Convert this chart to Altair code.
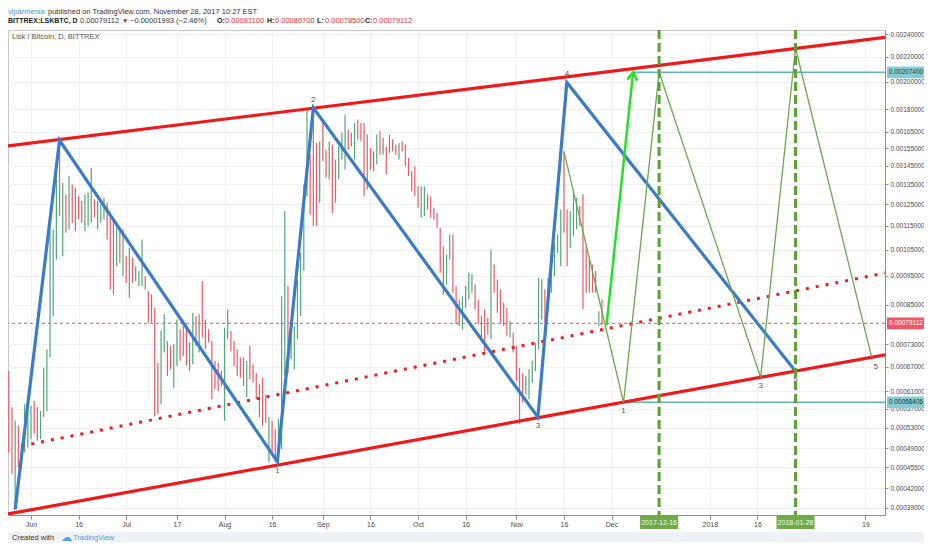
import altair as alt
import pandas as pd

W, H = 877, 485

# ---------------- data ----------------
bar_first_day = "2017-05-25"
bar_high = [
    0.000659, 0.000573, 0.000544, 0.000534, 0.000497, 0.000580, 0.000562, 0.000576, 0.000587, 0.000573,
    0.000565, 0.000667, 0.000716, 0.001134, 0.001134, 0.001463, 0.001600, 0.001357, 0.001297, 0.001392,
    0.001348, 0.001331, 0.001289, 0.001265, 0.001297, 0.001306, 0.001437, 0.001273, 0.001265, 0.001249,
    0.001281, 0.001257, 0.001187, 0.001179, 0.001142, 0.001127, 0.001134, 0.001024, 0.001057, 0.001018,
    0.000985, 0.000967, 0.001092, 0.000948, 0.000895, 0.000884, 0.000841, 0.000680, 0.000770, 0.000819,
    0.000739, 0.000725, 0.000730, 0.000803, 0.000773, 0.000783, 0.000788, 0.000735, 0.000824, 0.000814,
    0.000819, 0.000930, 0.000803, 0.000773, 0.000739, 0.000685, 0.000680, 0.000659, 0.000778, 0.000835,
    0.000768, 0.000739, 0.000716, 0.000694, 0.000694, 0.000685, 0.000725, 0.000676, 0.000654, 0.000626,
    0.000642, 0.000602, 0.000552, 0.000544, 0.000527, 0.000548, 0.000878, 0.001217, 0.000913, 0.000768,
    0.000783, 0.000936, 0.001037, 0.001348, 0.001797, 0.001512, 0.001809, 0.001581, 0.001591, 0.001719,
    0.001541, 0.001591, 0.001571, 0.001484, 0.001561, 0.001644, 0.001763, 0.001664, 0.001644, 0.001708,
    0.001730, 0.001708, 0.001708, 0.001633, 0.001551, 0.001531, 0.001633, 0.001654, 0.001612, 0.001561,
    0.001633, 0.001602, 0.001571, 0.001581, 0.001591, 0.001571, 0.001493, 0.001419, 0.001446, 0.001339,
    0.001339, 0.001339, 0.001297, 0.001289, 0.001233, 0.001209, 0.001142, 0.001064, 0.001030, 0.001113,
    0.001113, 0.000913, 0.000867, 0.000878, 0.000913, 0.000961, 0.000955, 0.000918, 0.000867, 0.000814,
    0.000835, 0.000808, 0.001050, 0.000992, 0.000936, 0.000901, 0.000856, 0.000840, 0.000798, 0.000763,
    0.000725, 0.000667, 0.000654, 0.000646, 0.000663, 0.000685, 0.000735, 0.000942, 0.000936, 0.000901,
    0.000942, 0.001050, 0.001078, 0.001113, 0.001225, 0.001531, 0.001225, 0.001217, 0.001322, 0.001281,
    0.001241, 0.001297, 0.001064, 0.001011, 0.000992, 0.000967, 0.000829, 0.000867,
]
bar_low = [
    0.000482, 0.000443, 0.000387, 0.000455, 0.000452, 0.000482, 0.000491, 0.000507, 0.000517, 0.000504,
    0.000507, 0.000552, 0.000565, 0.000694, 0.000814, 0.001011, 0.001194, 0.001024, 0.001120, 0.001134,
    0.001164, 0.001127, 0.001179, 0.001164, 0.001127, 0.001149, 0.001164, 0.001187, 0.001134, 0.001164,
    0.001179, 0.001092, 0.000901, 0.000884, 0.000985, 0.000998, 0.000948, 0.000924, 0.000873, 0.000924,
    0.000930, 0.000913, 0.000913, 0.000901, 0.000793, 0.000793, 0.000554, 0.000558, 0.000580, 0.000707,
    0.000646, 0.000663, 0.000618, 0.000672, 0.000685, 0.000698, 0.000672, 0.000659, 0.000676, 0.000725,
    0.000707, 0.000749, 0.000716, 0.000735, 0.000591, 0.000614, 0.000610, 0.000622, 0.000544, 0.000744,
    0.000711, 0.000672, 0.000646, 0.000642, 0.000622, 0.000595, 0.000638, 0.000630, 0.000591, 0.000552,
    0.000534, 0.000541, 0.000464, 0.000482, 0.000465, 0.000476, 0.000488, 0.000646, 0.000654, 0.000689,
    0.000663, 0.000744, 0.000814, 0.000967, 0.001289, 0.001202, 0.001149, 0.001149, 0.001257, 0.001474,
    0.001383, 0.001374, 0.001209, 0.001257, 0.001374, 0.001484, 0.001428, 0.001541, 0.001561, 0.001484,
    0.001602, 0.001591, 0.001289, 0.001322, 0.001428, 0.001419, 0.001456, 0.001512, 0.001512, 0.001401,
    0.001521, 0.001531, 0.001512, 0.001484, 0.001531, 0.001446, 0.001392, 0.001314, 0.001289, 0.001233,
    0.001187, 0.001194, 0.001225, 0.001187, 0.001179, 0.001142, 0.000961, 0.000884, 0.000918, 0.001011,
    0.000890, 0.000788, 0.000783, 0.000773, 0.000840, 0.000867, 0.000890, 0.000835, 0.000788, 0.000749,
    0.000711, 0.000758, 0.000744, 0.000890, 0.000824, 0.000793, 0.000783, 0.000754, 0.000749, 0.000707,
    0.000634, 0.000538, 0.000584, 0.000602, 0.000591, 0.000630, 0.000659, 0.000716, 0.000803, 0.000793,
    0.000835, 0.000890, 0.000948, 0.001037, 0.000985, 0.001120, 0.000985, 0.001057, 0.001106, 0.001134,
    0.001149, 0.000835, 0.000890, 0.000890, 0.000890, 0.000890, 0.000783, 0.000785,
]
bar_dir = ("ddudduuudd" "uuuuuududu" "dddduuuduu" "udddududud" "uuuddddduu"
           "dduuddduud" "uddddddduu" "dddddudddu" "ddudduuudu" "uuuuudddud"
           "dudduuuddu" "ddduddudud" "uddudddddd" "uudddddduu" "ddduuuuddu"
           "ddudddddud" "ddduuuuuud" "uuuuudduuu" "ddduddud")

last_open, last_high, last_low, last_close = 0.00081100, 0.00086700, 0.00078500, 0.00079112
last_change, last_change_pct = -0.00001993, -2.46

# channel (two parallel trend lines) and dotted trend line
channel_name = ["upper", "upper", "lower", "lower"]
channel_date = ["2017-05-23", "2018-02-27", "2017-05-23", "2018-02-27"]
channel_price = [0.001559, 0.002379, 0.000379, 0.000704]
dotted_date = ["2017-05-29", "2018-02-27"]
dotted_price = [0.000494, 0.000964]

# blue wave count
blue_date = ["2017-05-27", "2017-06-10", "2017-08-17T16:00", "2017-08-29",
             "2017-11-07T19:00", "2017-11-16T22:00", "2018-01-28"]
blue_price = [0.000387, 0.001598, 0.000465, 0.001809, 0.000552, 0.001995, 0.000658]

# green projected path
green_date = ["2017-11-16", "2017-12-04T19:00", "2017-12-16", "2018-01-17", "2018-01-28", "2018-02-21"]
green_price = [0.001531, 0.00058406, 0.002074, 0.000643, 0.002275, 0.000695]

# bright arrow
arrow_date = ["2017-11-29T10:00", "2017-12-07T19:00"]
arrow_price = [0.000785, 0.002074]

# horizontal target lines
target_start = ["2017-12-07T19:00", "2017-12-04T19:00"]
target_price = [0.002074, 0.00058406]
target_label = ["0.00207400", "0.00058406"]

# vertical dashed date markers
marker_dates = ["2017-12-16", "2018-01-28"]

# wave labels
wave_text = ["1", "2", "3", "4", "5", "1", "3", "5"]
wave_date = ["2017-08-17T16:00", "2017-08-29", "2017-11-07T19:00", "2017-11-16T22:00", "2018-01-28",
             "2017-12-04T19:00", "2018-01-17", "2018-02-21"]
wave_price = [0.000465, 0.001809, 0.000552, 0.001995, 0.000658, 0.00058406, 0.000643, 0.000695]
wave_pos = ["below", "above", "below", "above", "below", "below", "below", "below5"]

y_ticks = [0.0024, 0.0022, 0.0020, 0.0018, 0.00165, 0.00155, 0.00145, 0.00135, 0.00125,
           0.00115, 0.00105, 0.00095, 0.00085, 0.00073, 0.00067, 0.00061, 0.00057, 0.00053,
           0.00049, 0.000455, 0.00042, 0.00039]
x_ticks = ["2017-06-01", "2017-06-16", "2017-07-01", "2017-07-17", "2017-08-01", "2017-08-16",
           "2017-09-01", "2017-09-16", "2017-10-01", "2017-10-16", "2017-11-01", "2017-11-16",
           "2017-12-01", "2018-01-01", "2018-01-16", "2018-02-19"]

assert len(bar_high) == len(bar_low) == len(bar_dir) == 188


def iso(s):
    return s + ("T00:00" if "T" not in s else "") + ":00Z"


def dt(s, hours=0):
    y, m, d = map(int, s.split("-"))
    return alt.DateTime(year=y, month=m, date=d, hours=hours, utc=True)


FONT = "Liberation Sans"
xscale = alt.Scale(type="utc", domain=[dt("2017-05-24", 18), dt("2018-02-25", 5)])
yscale = alt.Scale(type="log", domain=[0.000379, 0.00244], nice=False, zero=False)
xaxis = alt.Axis(
    values=[dt(s) for s in x_ticks],
    labelExpr="utcdate(datum.value) == 1 ? (utcmonth(datum.value) == 0 ? utcFormat(datum.value, '%Y') : utcFormat(datum.value, '%b')) : utcFormat(datum.value, '%-d')",
    grid=True, gridColor="#eef0f4", tickSize=4, tickColor="#8a8d93", domainColor="#8a8d93",
    labelFont=FONT, labelFontSize=7, labelColor="#4a4a4a", labelPadding=1,
    labelOverlap=False, labelFlush=False,
)
yaxis = alt.Axis(
    orient="right", values=y_ticks, format=".8f",
    grid=True, gridColor="#eef0f4", tickSize=3, tickColor="#8a8d93", domainColor="#8a8d93",
    labelFont=FONT, labelFontSize=6.5, labelColor="#4a4a4a", labelPadding=2,
    labelOverlap=False, labelFlush=False,
)


def X(f):
    return alt.X(f"{f}:T", scale=xscale, axis=xaxis, title=None)


def Y(f):
    return alt.Y(f"{f}:Q", scale=yscale, axis=yaxis, title=None)


bars = pd.DataFrame({
    "date": [d.strftime("%Y-%m-%dT00:00:00Z") for d in pd.date_range(bar_first_day, periods=len(bar_high), freq="D")],
    "high": bar_high,
    "low": bar_low,
    "dir": ["up" if c == "u" else "down" for c in bar_dir],
})
channel = pd.DataFrame({"name": channel_name, "date": [iso(s) for s in channel_date], "price": channel_price})
dotted = pd.DataFrame({"date": [iso(s) for s in dotted_date], "price": dotted_price})
blue = pd.DataFrame({"date": [iso(s) for s in blue_date], "price": blue_price, "o": range(len(blue_date))})
green = pd.DataFrame({"date": [iso(s) for s in green_date], "price": green_price, "o": range(len(green_date))})
arrow = pd.DataFrame({"date": [iso(s) for s in arrow_date], "price": arrow_price})
targets = pd.DataFrame({"start": [iso(s) for s in target_start], "end": iso("2018-03-05"),
                        "price": target_price, "label": target_label})
markers = pd.DataFrame({"date": [iso(s) for s in marker_dates], "label": marker_dates})
waves = pd.DataFrame({"date": [iso(s) for s in wave_date], "price": wave_price, "t": wave_text, "pos": wave_pos})
current = pd.DataFrame({"price": [last_close], "label": [f"{last_close:.8f}"]})
one = pd.DataFrame({"k": [0]})

PAD_R = 39
layers = []

# footer background
layers.append(alt.Chart(one).mark_rect(color="#eef1f5").encode(
    x=alt.value(-10), x2=alt.value(W + PAD_R + 5), y=alt.value(H + 17), y2=alt.value(H + 40)))

# OHLC bars (high-low)
layers.append(alt.Chart(bars).mark_rule(strokeWidth=1.2).encode(
    x=X("date"), y=Y("high"), y2=alt.Y2("low"),
    color=alt.Color("dir:N", scale=alt.Scale(domain=["up", "down"], range=["#4fa877", "#ec5a66"]), legend=None)))

# current price dashed line
layers.append(alt.Chart(current).mark_rule(color="#f0505f", strokeDash=[3, 3], strokeWidth=1).encode(y=Y("price")))

# teal target lines
layers.append(alt.Chart(targets).mark_rule(color="#5fb3bb", strokeWidth=1.5, clip=True).encode(
    x=X("start"), x2=alt.X2("end"), y=Y("price")))

# dotted trend
layers.append(alt.Chart(dotted).mark_line(color="#ee1c1c", strokeWidth=3, strokeDash=[3, 7], clip=True).encode(
    x=X("date"), y=Y("price")))

# channel lines
layers.append(alt.Chart(channel).mark_line(color="#f01818", strokeWidth=3.2, clip=True).encode(
    x=X("date"), y=Y("price"), detail="name:N"))

# blue zigzag
layers.append(alt.Chart(blue).mark_line(color="#3b7cc6", strokeWidth=3.2, clip=True).encode(
    x=X("date"), y=Y("price"), order="o:Q"))

# green projected path
layers.append(alt.Chart(green).mark_line(color="#6aa84f", strokeWidth=1.3, clip=True).encode(
    x=X("date"), y=Y("price"), order="o:Q"))

# wave labels
offsets = {"below": (0, 9), "above": (0, -8), "below5": (4, 10)}
for pos, (dx, dy) in offsets.items():
    layers.append(alt.Chart(waves[waves["pos"] == pos]).mark_text(
        fontSize=8, font=FONT, color="#555", dx=dx, dy=dy, baseline="middle").encode(
        x=X("date"), y=Y("price"), text="t:N"))

# dashed vertical date markers
layers.append(alt.Chart(markers).mark_rule(color="#5ca232", strokeWidth=3, strokeDash=[9, 4]).encode(x=X("date")))

# bright arrow
layers.append(alt.Chart(arrow).mark_line(color="#26e026", strokeWidth=2.5, clip=True).encode(
    x=X("date"), y=Y("price")))
layers.append(alt.Chart(arrow.iloc[[1]]).mark_point(
    shape="M -0.7 1.1 L 0 0 L 0.7 1.1", filled=False, size=200, angle=6,
    color="#26e026", strokeWidth=2.5, opacity=1).encode(x=X("date"), y=Y("price")))

# axis highlight boxes (price axis)
BOX_X = W + 21
RECT_Y = "M -1 -0.31 L 1 -0.31 L 1 0.31 L -1 0.31 Z"
layers.append(alt.Chart(targets).mark_point(shape=RECT_Y, filled=True, size=1444, color="#86cdd3",
                                             opacity=1, strokeWidth=0).encode(
    x=alt.value(BOX_X), y=Y("price")))
layers.append(alt.Chart(targets).mark_text(font=FONT, fontSize=6.5, color="#163a3d", baseline="middle").encode(
    x=alt.value(BOX_X), y=Y("price"), text="label:N"))
layers.append(alt.Chart(current).mark_point(shape=RECT_Y, filled=True, size=1444, color="#f25565",
                                             opacity=1, strokeWidth=0).encode(
    x=alt.value(BOX_X), y=Y("price")))
layers.append(alt.Chart(current).mark_text(font=FONT, fontSize=6.5, color="white", baseline="middle").encode(
    x=alt.value(BOX_X), y=Y("price"), text="label:N"))

# axis highlight boxes (time axis)
RECT_X = "M -1 -0.34 L 1 -0.34 L 1 0.34 L -1 0.34 Z"
layers.append(alt.Chart(markers).mark_point(shape=RECT_X, filled=True, size=1444, color="#6cab48",
                                             opacity=1, strokeWidth=0).encode(
    x=X("date"), y=alt.value(H + 7.5)))
layers.append(alt.Chart(markers).mark_text(font=FONT, fontSize=7, color="#f4fbef", baseline="middle").encode(
    x=X("date"), y=alt.value(H + 7.5), text="label:N"))


def txt(s, px, py, color="#333", size=7.5, weight="normal"):
    return alt.Chart(one).mark_text(text=s, align="left", baseline="middle", fontSize=size,
                                    fontWeight=weight, color=color, font=FONT).encode(
        x=alt.value(px), y=alt.value(py))


RED = "#e03341"
# header line 1
layers.append(txt("viparmenia", 0, -18.5, "#3a9ad9"))
layers.append(txt("published on TradingView.com, November 28, 2017 10:27 EST", 40, -18.5, "#333"))
# header line 2
L2 = -9
layers.append(txt("BITTREX:LSKBTC, D", 0, L2, "#222", size=7, weight="bold"))
layers.append(txt(f"{last_close:.8f}", 72, L2, "#333"))
layers.append(txt("▼", 114, L2, "#b01e2a", size=6.5))
layers.append(txt(f"\u2212{abs(last_change):.8f} (\u2212{abs(last_change_pct):.2f}%)", 122, L2, "#333"))
for lab, val, px in [("O:", last_open, 209), ("H:", last_high, 259), ("L:", last_low, 309), ("C:", last_close, 357)]:
    layers.append(txt(lab, px, L2, "#222", size=7, weight="bold"))
    layers.append(txt(f"{val:.8f}", px + 8, L2, RED))
# pane title
layers.append(txt("Lisk / Bitcoin, D, BITTREX", 4, 7, "#555"))
# footer
layers.append(txt("Created with", 4, H + 23, "#333"))
layers.append(txt("\u2601", 53, H + 23, "#4aa3df", size=11))
layers.append(txt("TradingView", 65, H + 23, "#4aa3df"))

chart = alt.layer(*layers).properties(
    width=W, height=H,
    autosize=alt.AutoSizeParams(type="none"),
    padding={"left": 0, "top": 22, "right": PAD_R, "bottom": 27},
    background="white",
).configure_view(stroke="#c4c6cb", strokeWidth=1)

chart.save("out.html", embed_options={"renderer": "svg", "actions": False})
